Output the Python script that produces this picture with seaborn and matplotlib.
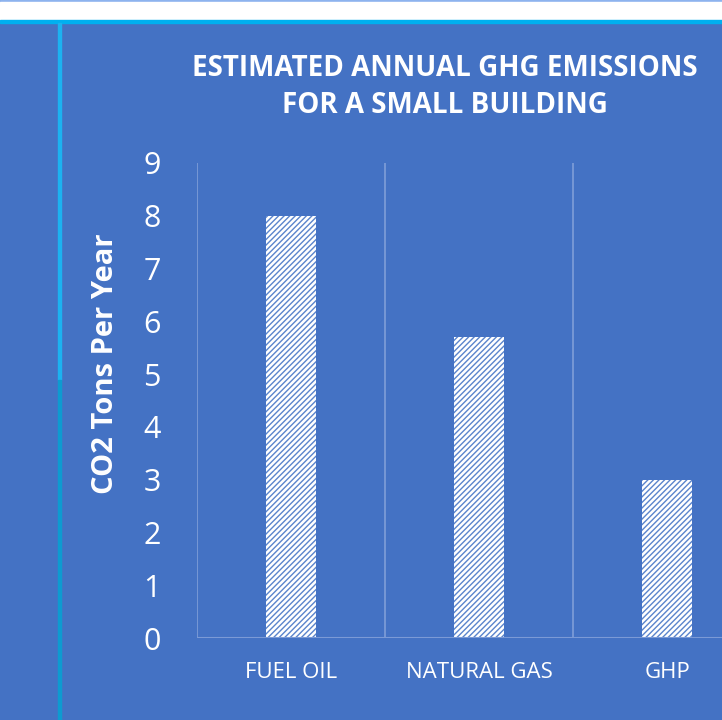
import matplotlib
matplotlib.use("Agg")
import pandas as pd
import seaborn as sns
from matplotlib import pyplot as plt
from matplotlib.patches import Rectangle

categories = ["FUEL OIL", "NATURAL GAS", "GHP"]
emissions = [8.0, 5.7, 3.0]
yticks = [0, 1, 2, 3, 4, 5, 6, 7, 8, 9]
title = "ESTIMATED ANNUAL GHG EMISSIONS\nFOR A SMALL BUILDING"
ylabel = "CO2 Tons Per Year"

BLUE = "#4472C4"
GRID = "#7B9AD6"


def main() -> None:
    sns.set_theme(style="white")
    plt.rcParams["font.family"] = ["Open Sans", "DejaVu Sans"]
    plt.rcParams["hatch.linewidth"] = 1.0

    df = pd.DataFrame({"fuel": categories, "tons": emissions})

    fig = plt.figure(figsize=(7.22, 7.2), dpi=100, facecolor=BLUE)
    W, H = 722, 720

    # slide decorations: white strip at top, cyan rules
    fig.patches.append(Rectangle((0, 1 - 2 / H), 1, 2 / H, transform=fig.transFigure,
                                 color="#8DB3EE", zorder=0))
    fig.patches.append(Rectangle((0, 1 - 20 / H), 1, 18 / H, transform=fig.transFigure,
                                 color="white", zorder=0))
    fig.patches.append(Rectangle((0, 1 - 23 / H), 1, 3 / H, transform=fig.transFigure,
                                 color="#00B0F0", zorder=0))
    fig.patches.append(Rectangle((58 / W, 340 / H), 3 / W, (H - 23 - 340) / H,
                                 transform=fig.transFigure, color="#1CB2F0", zorder=0))
    fig.patches.append(Rectangle((58 / W, 0), 3 / W, 340 / H,
                                 transform=fig.transFigure, color="#0E9BD0", zorder=0))

    ax = fig.add_axes([197 / W, 1 - 638 / H, 564 / W, 475 / H])
    ax.set_facecolor(BLUE)

    # white bars striped with thin blue diagonals
    sns.barplot(data=df, x="fuel", y="tons", ax=ax, color="white", width=0.27,
                edgecolor="#5A84CC", linewidth=0, hatch="//////", zorder=3)

    ax.set_xlim(-0.5, len(categories) - 0.5)
    ax.set_ylim(0, 9)
    ax.set_yticks(yticks)
    for x in [i - 0.5 for i in range(len(categories) + 1)]:
        ax.axvline(x, color=GRID, linewidth=1.3, zorder=1)
    ax.axhline(0, color=GRID, linewidth=1.5, zorder=4)

    for side in ["top", "right", "bottom", "left"]:
        ax.spines[side].set_visible(False)

    ax.tick_params(axis="y", length=0, pad=26, labelsize=22, labelcolor="white")
    ax.tick_params(axis="x", length=0, pad=17, labelsize=16, labelcolor="white")

    ax.set_xlabel("")
    ax.set_ylabel(ylabel, color="white", fontsize=21, fontweight="bold")
    ax.yaxis.set_label_coords(-0.137, 0.578)

    fig.text(445 / W, 1 - 87 / H, title, ha="center", va="center", color="white",
             fontsize=20, fontweight="bold", linespacing=1.35)

    fig.savefig("out.png", dpi=100, facecolor=BLUE)
    plt.close(fig)


if __name__ == "__main__":
    main()
